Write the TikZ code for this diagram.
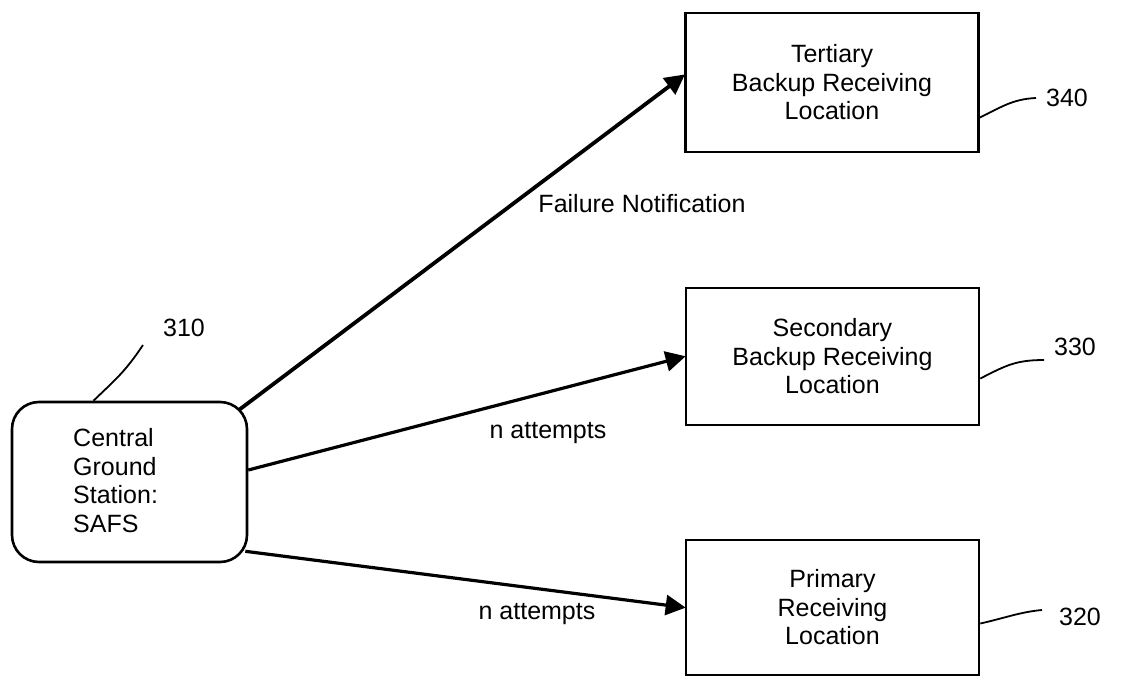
\documentclass[tikz,border=0pt]{standalone}
\usepackage{fontspec}
\setmainfont{Liberation Sans}
\usetikzlibrary{arrows.meta}
\begin{document}
\begin{tikzpicture}[x=1pt,y=-1pt,
  txt/.style={font=\fontsize{25}{28.5}\selectfont, inner sep=0pt},
  locbox/.style={draw, line width=2.6pt, minimum width=293pt, align=center, txt},
  arr/.style={line width=3.2pt, -{Triangle[length=20pt,width=20pt]}, shorten >=-1pt},
  leader/.style={line width=1.8pt}]
\useasboundingbox (0,0) rectangle (1122,677);
% central station
\node[draw, line width=2.6pt, rounded corners=27pt, minimum width=235pt, minimum height=160pt, inner sep=0pt] (central) at (129.5,482) {};
\node[txt, align=left, anchor=west] (centraltext) at (73,480.5) {Central\\Ground\\Station:\\SAFS};
% receiving locations
\node[locbox, minimum height=139pt] (tert) at (832,82.5) {Tertiary\\Backup Receiving\\Location};
\node[locbox, minimum height=137pt] (sec) at (832.5,356.5) {Secondary\\Backup Receiving\\Location};
\node[locbox, minimum height=135pt] (prim) at (832.5,607.5) {Primary\\Receiving\\Location};
% arrows
\draw[arr, line width=3.8pt] ([xshift=-9pt,yshift=-9pt]central.north east) -- ([yshift=7.5pt]tert.west);
\draw[arr] ([yshift=12pt]central.east) -- (sec.west);
\draw[arr] ([xshift=-3pt,yshift=12pt]central.south east) -- (prim.west);
% edge labels
\node[txt] (fail) at (642,204) {Failure Notification};
\node[txt] (natt1) at (548,433) {n attempts};
\node[txt] (natt2) at (537,614) {n attempts};
% reference numerals
\node[txt] (l310) at (184,328) {310};
\node[txt] (l340) at (1067,98) {340};
\node[txt] (l330) at (1075,347) {330};
\node[txt] (l320) at (1080,617) {320};
\coordinate (c310) at (143,345);
\coordinate (c340) at (1036,98);
\coordinate (c330) at (1044,360);
\coordinate (c320) at (1042,610);
\draw[leader] (c310) .. controls (125,372) and (115,380) .. ([xshift=-36pt]central.north);
\draw[leader] ([yshift=-35pt]tert.east) .. controls (1000,108) and (1012,99) .. (c340);
\draw[leader] ([yshift=-22pt]sec.east) .. controls (1005,366) and (1015,360) .. (c330);
\draw[leader] ([yshift=-16pt]prim.east) .. controls (1005,618) and (1020,612) .. (c320);
\end{tikzpicture}
\end{document}
